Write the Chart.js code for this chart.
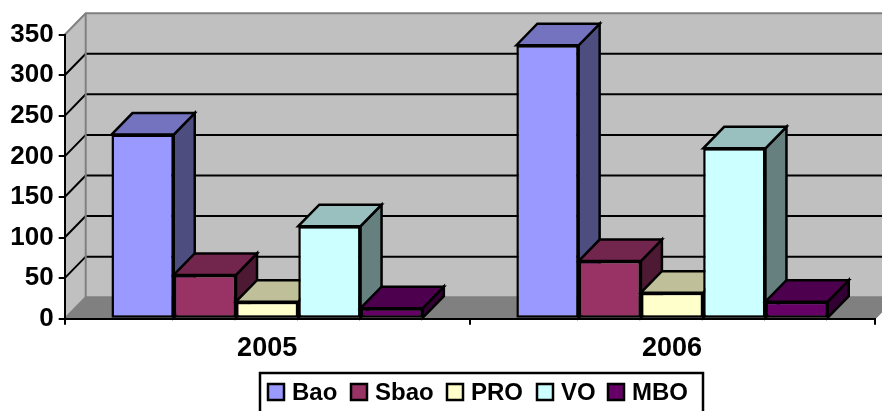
<!DOCTYPE html>
<html>
<head>
<meta charset="utf-8">
<style>html,body{margin:0;padding:0;background:#fff;overflow:hidden}canvas{display:block}</style>
<script src="https://cdn.jsdelivr.net/npm/chart.js@4/dist/chart.umd.min.js"></script>
</head>
<body>
<canvas id="c" width="882" height="411"></canvas>
<script>
const categories = ["2005", "2006"];
const seriesNames = ["Bao", "Sbao", "PRO", "VO", "MBO"];
const bao = [227, 337];
const sbao = [54, 71];
const pro = [21, 32];
const vo = [114, 210];
const mbo = [13, 21];
const frontColors = ["#9999FF", "#993366", "#FFFFCC", "#CCFFFF", "#660066"];
const topColors = ["#7373BF", "#73264D", "#BFBF99", "#99BFBF", "#4D004D"];
const sideColors = ["#4D4D80", "#4D1933", "#808066", "#668080", "#330033"];
const yTicksMax = 350, yStep = 50;

const DX = 21, DY = 21.5;
const FONT = '"Liberation Sans", Arial, sans-serif';

function poly(ctx, pts, fill, stroke, lw) {
  ctx.beginPath();
  pts.forEach((p, i) => i ? ctx.lineTo(p[0], p[1]) : ctx.moveTo(p[0], p[1]));
  ctx.closePath();
  if (fill) { ctx.fillStyle = fill; ctx.fill(); }
  if (stroke) { ctx.strokeStyle = stroke; ctx.lineWidth = lw; ctx.lineJoin = 'miter'; ctx.stroke(); }
}

const walls = {
  id: 'walls',
  beforeDraw(chart) {
    const ctx = chart.ctx, y = chart.scales.y, a = chart.chartArea;
    const L = a.left, R = a.right, B = y.getPixelForValue(0), T = y.getPixelForValue(yTicksMax);
    ctx.save();
    poly(ctx, [[L, B], [L + DX, B - DY], [L + DX, T - DY], [L, T]], '#C0C0C0');
    poly(ctx, [[L + DX, B - DY], [R + DX, B - DY], [R + DX, T - DY], [L + DX, T - DY]], '#C0C0C0');
    poly(ctx, [[L, B], [L + DX, B - DY], [R + DX, B - DY], [R, B]], '#808080');
    ctx.lineWidth = 2;
    y.ticks.forEach(t => {
      const py = y.getPixelForValue(t.value);
      const edge = t.value === 0 || t.value === yTicksMax;
      ctx.strokeStyle = edge ? '#808080' : '#000';
      ctx.beginPath();
      ctx.moveTo(L, py); ctx.lineTo(L + DX, py - DY); ctx.lineTo(R + DX, py - DY);
      ctx.stroke();
    });
    ctx.strokeStyle = '#808080';
    ctx.beginPath();
    ctx.moveTo(L + DX, T - DY); ctx.lineTo(L + DX, B - DY);
    ctx.moveTo(R, B); ctx.lineTo(R + DX, B - DY);
    ctx.stroke();
    ctx.restore();
  }
};

// Draws the series first to last so that each bar covers the depth faces of the one before it.
const faces = {
  id: 'faces',
  beforeDatasetsDraw(chart) {
    const ctx = chart.ctx;
    seriesNames.forEach((n, i) => {
      const meta = chart.getDatasetMeta(i);
      ctx.save();
      meta.data.forEach(el => {
        const w = el.width, l = el.x - w / 2, r = el.x + w / 2, t = el.y, b = el.base;
        poly(ctx, [[r, b], [r + DX, b - DY], [r + DX, t - DY], [r, t]], sideColors[i], '#000', 2.5);
        poly(ctx, [[l, t], [l + DX, t - DY], [r + DX, t - DY], [r, t]], topColors[i], '#000', 2.5);
      });
      ctx.restore();
      meta.controller.draw();
    });
    return false;
  }
};

const legendBox = {
  id: 'legendBox',
  afterDraw(chart) {
    const ctx = chart.ctx;
    const boxX = [268, 351, 447, 537, 608];
    ctx.save();
    ctx.fillStyle = '#fff'; ctx.strokeStyle = '#000'; ctx.lineWidth = 2.5;
    ctx.fillRect(260, 373, 443, 45);
    ctx.strokeRect(260, 373, 443, 45);
    ctx.font = 'bold 24px ' + FONT;
    ctx.textBaseline = 'middle';
    seriesNames.forEach((n, i) => {
      ctx.fillStyle = frontColors[i];
      ctx.fillRect(boxX[i], 384, 16, 16);
      ctx.strokeStyle = '#000'; ctx.lineWidth = 2.5;
      ctx.strokeRect(boxX[i], 384, 16, 16);
      ctx.fillStyle = '#000';
      ctx.fillText(n, boxX[i] + 24, 393);
    });
    ctx.restore();
  }
};

const values = [bao, sbao, pro, vo, mbo];
new Chart(document.getElementById('c'), {
  type: 'bar',
  data: {
    labels: categories,
    datasets: seriesNames.map((n, i) => ({
      label: n,
      data: values[i],
      backgroundColor: frontColors[i],
      borderColor: '#000',
      borderWidth: 2.5,
      borderSkipped: false
    }))
  },
  plugins: [walls, faces, legendBox],
  options: {
    responsive: false,
    animation: false,
    layout: { padding: { top: 34.7, right: 7.5, bottom: 0, left: 0 } },
    plugins: { legend: { display: false }, tooltip: { enabled: false } },
    datasets: { bar: { barPercentage: 1, categoryPercentage: 0.769 } },
    scales: {
      x: {
        afterFit(s) { s.height = 92.3; },
        grid: { drawOnChartArea: false, tickLength: 6, color: '#000', lineWidth: 2 },
        border: { color: '#000', width: 2 },
        ticks: { color: '#000', font: { family: FONT, weight: 'bold', size: 27 }, padding: 8, maxRotation: 0 }
      },
      y: {
        min: 0, max: yTicksMax,
        afterFit(s) { s.width = 64.7; },
        grid: { drawOnChartArea: false, tickLength: 6, color: '#000', lineWidth: 2 },
        border: { color: '#000', width: 2 },
        ticks: { stepSize: yStep, color: '#000', font: { family: FONT, weight: 'bold', size: 26 }, padding: 5 }
      }
    }
  }
});
</script>
</body>
</html>
